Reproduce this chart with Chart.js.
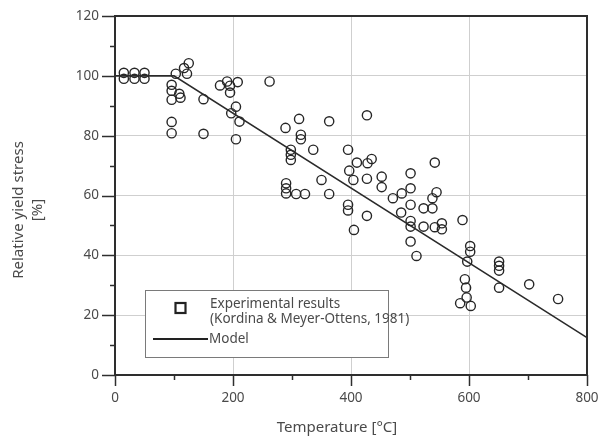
<!DOCTYPE html>
<html>
<head>
<meta charset="utf-8">
<script src="https://cdn.jsdelivr.net/npm/chart.js@4.4.1/dist/chart.umd.min.js"></script>
<style>
  html, body { margin: 0; padding: 0; background: #fff; }
  #wrap { width: 601px; height: 443px; position: relative; }
</style>
</head>
<body>
<div id="wrap"><canvas id="chart"></canvas></div>
<script>
/* ── Data ── */
const tempC = [
  15, 15, 33, 33, 50, 50,
  96, 96, 96, 96, 96, 103, 109, 111, 117, 122, 125,
  150, 150, 178, 190, 195, 195, 208, 205, 197, 211, 205,
  262, 289, 312, 363, 427, 315, 315, 298, 298, 298,
  336, 395, 410, 428, 435, 397, 350, 404, 427, 452, 452,
  290, 290, 290, 307, 322, 363,
  471, 395, 395, 427, 405, 486, 485,
  542, 501, 501, 501, 501, 501, 501,
  545, 538, 538, 523, 523, 542, 554, 554, 589,
  511, 602, 602, 597, 593, 595, 596, 585, 603,
  651, 651, 651, 651, 702, 751
];
const yieldPct = [
  101, 99, 101, 99, 101, 99,
  97, 95, 92, 84.6, 80.8, 100.7, 94, 92.7, 102.6, 100.7, 104.2,
  92.2, 80.6, 96.8, 98.1, 96.7, 94.4, 97.9, 89.7, 87.5, 84.7, 78.8,
  98.1, 82.6, 85.6, 84.8, 86.8, 80.3, 78.8, 75.3, 73.6, 71.9,
  75.3, 75.3, 71, 70.8, 72.2, 68.3, 65.2, 65.2, 65.6, 66.3, 62.8,
  64.1, 62.4, 60.7, 60.5, 60.5, 60.5,
  59.1, 56.9, 55.0, 53.2, 48.5, 60.7, 54.3,
  71, 67.4, 62.4, 56.9, 51.5, 49.6, 44.6,
  61.1, 59.1, 55.7, 55.7, 49.6, 49.4, 50.7, 48.7, 51.8,
  39.8, 43.1, 41.2, 37.9, 32, 29.2, 25.9, 24, 23.1,
  37.9, 36.5, 34.9, 29.2, 30.3, 25.4
];
const modelTemp = [0, 100, 800];
const modelPct = [100, 100, 12.5];

const xMajor = [0, 200, 400, 600, 800];
const yMajor = [0, 20, 40, 60, 80, 100, 120];

const FONT = "'Noto Sans', 'DejaVu Sans', sans-serif";
const TEXT = '#4a4a4a';
const AXIS = '#2e2e2e';
const GRID = '#cfcfcf';

// drop the label-overhang padding so layout.padding alone sets the plot box
function noPad(s) {
  s.paddingLeft = s.paddingRight = s.paddingTop = s.paddingBottom = 0;
}

/* ── Frame, minor ticks, titles, legend ── */
const decor = {
  id: 'decor',
  afterDraw(chart) {
    const { ctx, chartArea: a, scales: { x, y } } = chart;
    ctx.save();

    // ticks
    ctx.strokeStyle = AXIS;
    ctx.lineWidth = 1.5;
    for (let v = 0; v <= 120; v += 10) {
      const py = Math.round(y.getPixelForValue(v)) + 0.5;
      const len = v % 20 === 0 ? 13 : 5;
      ctx.beginPath(); ctx.moveTo(a.left - len, py); ctx.lineTo(a.left, py); ctx.stroke();
    }
    for (let v = 0; v <= 800; v += 100) {
      const px = Math.round(x.getPixelForValue(v)) + 0.5;
      const len = v % 200 === 0 ? 11 : 5;
      ctx.beginPath(); ctx.moveTo(px, a.bottom); ctx.lineTo(px, a.bottom + len); ctx.stroke();
    }

    // frame
    ctx.lineWidth = 2;
    ctx.strokeRect(a.left, a.top, a.right - a.left, a.bottom - a.top);

    // axis titles
    ctx.fillStyle = TEXT;
    ctx.font = '15px ' + FONT;
    ctx.textAlign = 'center';
    ctx.textBaseline = 'middle';
    ctx.fillText('Temperature [°C]', 337, 428);
    ctx.save();
    ctx.translate(19, 210);
    ctx.rotate(-Math.PI / 2);
    ctx.fillText('Relative yield stress', 0, 0);
    ctx.restore();
    ctx.save();
    ctx.translate(38, 210);
    ctx.rotate(-Math.PI / 2);
    ctx.fillText('[%]', 0, 0);
    ctx.restore();

    // legend
    ctx.fillStyle = '#fff';
    ctx.fillRect(145, 290.5, 243, 67);
    ctx.strokeStyle = '#7a7a7a';
    ctx.lineWidth = 1;
    ctx.strokeRect(145.5, 290.5, 243, 67);
    ctx.strokeStyle = '#222';
    ctx.lineWidth = 2.2;
    ctx.strokeRect(175.5, 303, 10, 10);
    ctx.beginPath(); ctx.moveTo(153, 339); ctx.lineTo(208, 339); ctx.stroke();
    ctx.fillStyle = TEXT;
    ctx.font = '13.5px ' + FONT;
    ctx.textAlign = 'left';
    ctx.fillText('Experimental results', 210, 304);
    ctx.fillText('(Kordina & Meyer-Ottens, 1981)', 210, 319);
    ctx.fillText('Model', 209, 339);

    ctx.restore();
  }
};

new Chart(document.getElementById('chart'), {
  type: 'scatter',
  data: {
    datasets: [
      {
        label: 'Experimental results (Kordina & Meyer-Ottens, 1981)',
        data: tempC.map((t, i) => ({ x: t, y: yieldPct[i] })),
        pointStyle: 'circle',
        pointRadius: 4.6,
        pointBorderWidth: 1.4,
        pointBorderColor: '#262626',
        pointBackgroundColor: 'rgba(0,0,0,0)',
        order: 2
      },
      {
        label: 'Model',
        data: modelTemp.map((t, i) => ({ x: t, y: modelPct[i] })),
        showLine: true,
        borderColor: '#2a2a2a',
        borderWidth: 1.6,
        pointRadius: 0,
        order: 1
      }
    ]
  },
  options: {
    responsive: true,
    maintainAspectRatio: false,
    animation: false,
    layout: { padding: { left: 0, top: 16, right: 14, bottom: 0 } },
    plugins: { legend: { display: false }, tooltip: { enabled: false } },
    scales: {
      x: {
        type: 'linear', min: 0, max: 800,
        afterFit: s => { s.height = 68; noPad(s); },
        afterBuildTicks: s => { s.ticks = xMajor.map(v => ({ value: v })); },
        grid: {
          drawTicks: false,
          color: c => (c.tick && c.tick.value > 0 && c.tick.value < 800) ? GRID : 'rgba(0,0,0,0)',
          lineWidth: 1
        },
        border: { display: false },
        ticks: { padding: 15, color: TEXT, font: { family: FONT, size: 13.5 } }
      },
      y: {
        type: 'linear', min: 0, max: 120,
        afterFit: s => { s.width = 115; noPad(s); },
        afterBuildTicks: s => { s.ticks = yMajor.map(v => ({ value: v })); },
        grid: {
          drawTicks: false,
          color: c => (c.tick && c.tick.value > 0 && c.tick.value < 120) ? GRID : 'rgba(0,0,0,0)',
          lineWidth: 1
        },
        border: { display: false },
        ticks: { padding: 16, color: TEXT, font: { family: FONT, size: 13.5 } }
      }
    }
  },
  plugins: [decor]
});
</script>
</body>
</html>
